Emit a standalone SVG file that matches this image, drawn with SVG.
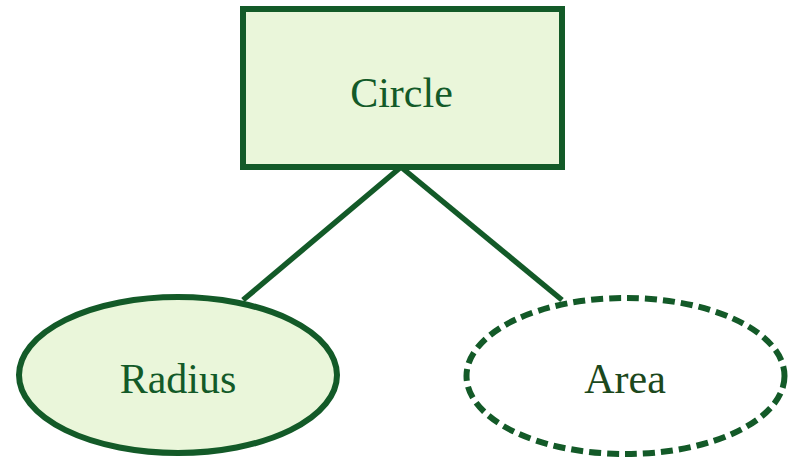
<svg xmlns="http://www.w3.org/2000/svg" width="796" height="466" viewBox="0 0 796 466">
<style>
.shape{stroke:#135a28;stroke-width:6}
.filled{fill:#eaf6da}
.lbl{font-family:"Liberation Serif","Times New Roman",serif;font-size:42px;fill:#135a28;text-anchor:middle}
.conn{stroke:#135a28;stroke-width:5.5;fill:none}
</style>
<rect width="796" height="466" fill="#ffffff"/>
<g id="connectors">
<line class="conn" x1="401" y1="167" x2="243" y2="300"/>
<line class="conn" x1="401" y1="167" x2="562" y2="300"/>
</g>
<g id="circle">
<rect class="shape filled" x="243" y="9" width="319" height="158"/>
<text class="lbl" x="401.5" y="107">Circle</text>
</g>
<g id="radius">
<ellipse class="shape filled" cx="178" cy="375" rx="159" ry="78"/>
<text class="lbl" x="178" y="393">Radius</text>
</g>
<g id="area">
<ellipse class="shape" cx="625.5" cy="376" rx="159" ry="78" fill="#ffffff" stroke-dasharray="12 6"/>
<text class="lbl" x="625" y="393" style="fill:#1c481c">Area</text>
</g>
</svg>
